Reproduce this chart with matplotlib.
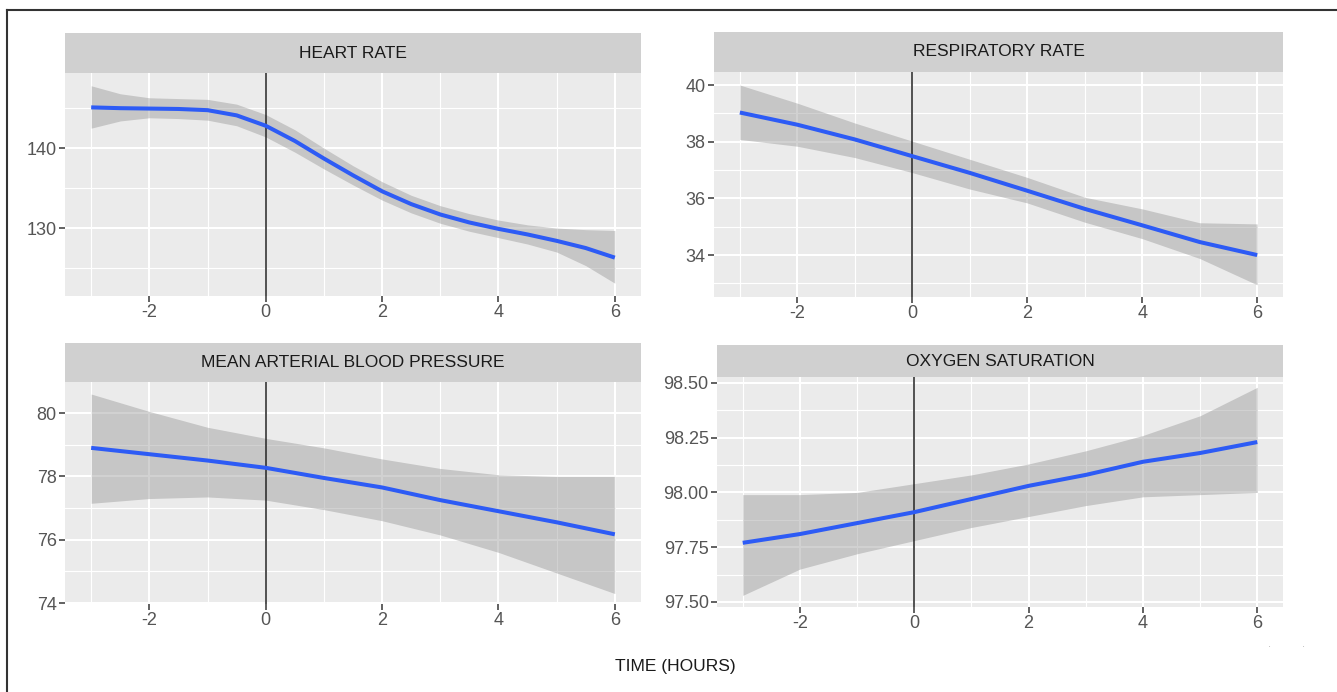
import numpy as np
import matplotlib
matplotlib.use('Agg')
import matplotlib.pyplot as plt
from matplotlib import font_manager
from matplotlib.lines import Line2D

# smoothed vitals around the event (hour 0)
hr_hours = [-3, -2.5, -2, -1.5, -1, -0.5, 0, 0.5, 1, 1.5, 2, 2.5, 3, 3.5, 4, 4.5, 5, 5.5, 6]
hr_fit = [145.1, 145.0, 144.95, 144.9, 144.75, 144.1, 142.8, 140.9, 138.7, 136.6,
          134.6, 133.0, 131.7, 130.7, 129.9, 129.2, 128.4, 127.5, 126.3]
hr_upper = [147.8, 146.8, 146.3, 146.2, 146.1, 145.5, 144.2, 142.3, 140.0, 137.8,
            135.8, 134.1, 132.8, 131.8, 131.0, 130.4, 130.0, 129.8, 129.7]
hr_lower = [142.5, 143.4, 143.8, 143.7, 143.5, 142.8, 141.4, 139.5, 137.4, 135.4,
            133.5, 131.9, 130.6, 129.6, 128.8, 128.0, 127.0, 125.3, 123.1]

hours = [-3, -2, -1, 0, 1, 2, 3, 4, 5, 6]
rr_fit = [39.03, 38.6, 38.08, 37.49, 36.9, 36.27, 35.63, 35.05, 34.46, 34.0]
rr_upper = [40.0, 39.36, 38.66, 38.02, 37.38, 36.74, 36.04, 35.63, 35.14, 35.1]
rr_lower = [38.08, 37.84, 37.44, 36.91, 36.33, 35.84, 35.16, 34.58, 33.88, 32.95]

map_fit = [78.9, 78.7, 78.5, 78.27, 77.95, 77.65, 77.25, 76.9, 76.55, 76.17]
map_upper = [80.6, 80.05, 79.55, 79.2, 78.9, 78.55, 78.25, 78.05, 78.0, 78.0]
map_lower = [77.15, 77.3, 77.35, 77.25, 76.95, 76.6, 76.15, 75.6, 74.95, 74.3]

spo2_fit = [97.77, 97.81, 97.86, 97.91, 97.97, 98.03, 98.08, 98.14, 98.18, 98.23]
spo2_upper = [97.99, 97.99, 98.0, 98.04, 98.08, 98.13, 98.19, 98.26, 98.35, 98.48]
spo2_lower = [97.53, 97.65, 97.72, 97.78, 97.84, 97.89, 97.94, 97.98, 97.99, 98.0]

titles = ["HEART RATE", "RESPIRATORY RATE", "MEAN ARTERIAL BLOOD PRESSURE", "OXYGEN SATURATION"]
x_major = [-2, 0, 2, 4, 6]
x_minor = [-3, -1, 1, 3, 5]
y_major = [[130, 140], [34, 36, 38, 40], [74, 76, 78, 80], [97.5, 97.75, 98.0, 98.25, 98.5]]
y_minor = [[125, 135, 145], [33, 35, 37, 39], [75, 77, 79],
           [97.625, 97.875, 98.125, 98.375]]
y_fmt = ["{:.0f}", "{:.0f}", "{:.0f}", "{:.2f}"]
y_lims = [(121.5, 149.4), (32.52, 40.46), (73.97, 80.98), (97.477, 98.527)]

series = [
    (hr_hours, hr_fit, hr_upper, hr_lower),
    (hours, rr_fit, rr_upper, rr_lower),
    (hours, map_fit, map_upper, map_lower),
    (hours, spo2_fit, spo2_upper, spo2_lower),
]

# layout in pixels: (x0, x1, strip_top, plot_top, plot_bottom)
W, H = 1337, 692
boxes = [
    (65, 641, 33, 73, 296),
    (714, 1283, 32, 72, 297),
    (65, 641, 343, 382, 604),
    (717, 1283, 345, 377, 607),
]

font_names = {f.name for f in font_manager.fontManager.ttflist}
narrow = 'Liberation Sans Narrow' in font_names
tick_family = 'Liberation Sans Narrow' if narrow else 'Liberation Sans'
tick_size = 14.5 if narrow else 13
plt.rcParams['font.family'] = ['Liberation Sans', 'DejaVu Sans']


def rect(x0, x1, y0, y1):
    return [x0 / W, 1 - y1 / H, (x1 - x0) / W, (y1 - y0) / H]


fig = plt.figure(figsize=(W / 100, H / 100), dpi=100)
fig.patch.set_facecolor('white')

for i, (x0, x1, s0, p0, p1) in enumerate(boxes):
    xs, fit, up, lo = series[i]

    strip = fig.add_axes(rect(x0, x1, s0, p0))
    strip.set_facecolor('#D0D0D0')
    strip.set_xticks([])
    strip.set_yticks([])
    for sp in strip.spines.values():
        sp.set_visible(False)
    strip.text(0.5, 0.5, titles[i], ha='center', va='center',
               fontsize=12.5, color='#1A1A1A', transform=strip.transAxes)

    ax = fig.add_axes(rect(x0, x1, p0, p1))
    ax.set_facecolor('#EBEBEB')
    for sp in ax.spines.values():
        sp.set_visible(False)
    ax.set_xlim(-3.45, 6.45)
    ax.set_ylim(*y_lims[i])
    ax.set_xticks(x_major)
    ax.set_xticks(x_minor, minor=True)
    ax.set_yticks(y_major[i])
    ax.set_yticks(y_minor[i], minor=True)
    ax.set_xticklabels([str(v) for v in x_major])
    ax.set_yticklabels([y_fmt[i].format(v) for v in y_major[i]])
    ax.grid(which='major', color='white', linewidth=1.5)
    ax.grid(which='minor', color='white', linewidth=0.8)
    ax.set_axisbelow(True)
    ax.tick_params(which='major', length=4, width=1.3, color='#555555',
                   labelcolor='#555555', labelsize=tick_size, pad=2)
    ax.tick_params(which='minor', length=0)
    for lab in ax.get_xticklabels() + ax.get_yticklabels():
        lab.set_family(tick_family)

    ax.fill_between(xs, lo, up, color='#999999', alpha=0.45, linewidth=0, zorder=2)
    ax.axvline(0, color='#222222', linewidth=1.1, zorder=3)
    ax.plot(xs, fit, color='#2D5BF5', linewidth=2.9, solid_capstyle='butt',
            solid_joinstyle='round', zorder=4)

fig.text(675 / W, 1 - 667 / H, "TIME (HOURS)", ha='center', va='center',
         fontsize=12.5, color='#1A1A1A')
fig.text(1269 / W, 1 - 647 / H, "·", ha='center', va='center', fontsize=7, color='#AAAAAA')
fig.text(1303 / W, 1 - 647 / H, "·", ha='center', va='center', fontsize=7, color='#AAAAAA')

# outer frame: left and top edges only
fig.add_artist(Line2D([7 / W, 7 / W], [0, 1 - 10 / H], color='#333333', linewidth=1.5))
fig.add_artist(Line2D([7 / W, 1], [1 - 10 / H, 1 - 10 / H], color='#333333', linewidth=1.5))

plt.savefig('out.png', dpi=100)
plt.close()
